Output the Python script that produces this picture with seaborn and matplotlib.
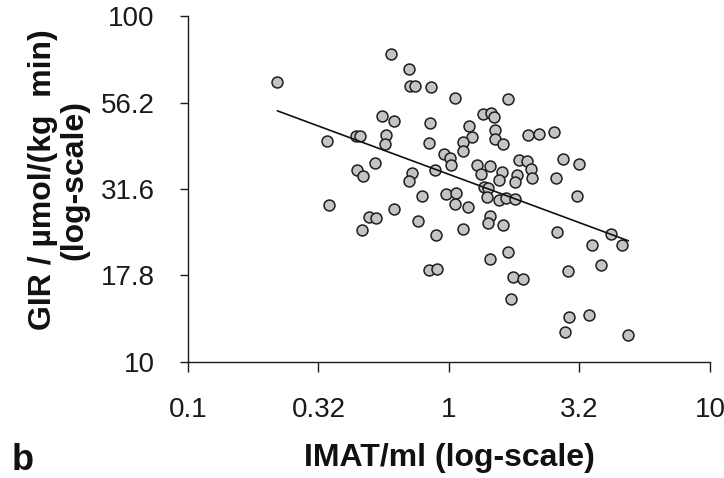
import numpy as np
import pandas as pd
import matplotlib
matplotlib.use("Agg")
import matplotlib.pyplot as plt
import seaborn as sns
from matplotlib.ticker import FixedLocator, FixedFormatter, NullLocator

# IMAT volume (ml) and GIR (µmol/(kg min))
imat = [0.220, 0.599, 0.700, 0.712, 0.740, 0.855, 1.05, 0.555, 0.617, 0.848,
        0.342, 0.439, 0.457, 0.575, 0.567, 0.837, 0.961, 1.009, 1.022, 0.519,
        0.445, 0.470, 0.880, 0.720, 0.702, 0.785, 0.970, 1.068, 1.05, 0.347,
        0.613, 1.679, 1.351, 1.450, 1.493, 1.198, 1.227, 1.129, 1.129, 1.506,
        1.506, 1.609, 2.002, 2.209, 2.516, 1.852, 1.991, 2.068, 2.077, 1.823,
        1.785, 2.724, 3.147, 2.577, 3.092, 1.285, 1.432, 1.328, 1.592, 1.359,
        1.408, 1.550, 1.398, 1.560, 1.652, 1.796, 1.180, 1.441, 1.412, 1.609,
        1.133, 0.495, 0.527, 0.466, 0.764, 0.894, 0.837, 0.896, 1.679, 1.441,
        1.760, 1.922, 1.729, 2.584, 4.172, 3.528, 4.596, 3.831, 2.847, 2.872,
        3.445, 2.773, 4.871]
gir = [64.5, 77.6, 70.2, 62.8, 62.8, 62.5, 58.1, 51.4, 49.6, 48.9,
       43.6, 45.0, 44.9, 45.3, 42.6, 43.0, 39.9, 38.8, 37.1, 37.5,
       35.8, 34.4, 35.8, 35.1, 33.3, 30.2, 30.6, 30.7, 28.7, 28.5,
       27.6, 57.4, 52.0, 52.4, 51.1, 48.1, 44.7, 43.3, 40.6, 46.7,
       44.1, 42.8, 45.4, 45.5, 46.1, 38.4, 38.2, 36.1, 34.0, 34.6,
       33.1, 38.7, 37.4, 34.0, 30.2, 37.2, 36.9, 35.0, 35.3, 32.0,
       31.8, 33.5, 29.9, 29.4, 29.7, 29.5, 28.0, 26.4, 25.2, 24.9,
       24.3, 26.2, 26.1, 24.0, 25.5, 23.3, 18.4, 18.6, 20.8, 19.9,
       17.6, 17.4, 15.2, 23.7, 23.5, 21.8, 21.8, 19.1, 18.3, 13.5,
       13.7, 12.2, 12.0]

# regression line end points
fit_imat = [0.220, 4.87]
fit_gir = [53.2, 22.4]

x_ticks = [0.1, 0.316, 1, 3.16, 10]
x_tick_labels = ["0.1", "0.32", "1", "3.2", "10"]
y_ticks = [10, 17.8, 31.6, 56.2, 100]
y_tick_labels = ["10", "17.8", "31.6", "56.2", "100"]

df = pd.DataFrame({"IMAT": imat, "GIR": gir})
fit_df = pd.DataFrame({"IMAT": fit_imat, "GIR": fit_gir})

sns.set_theme(style="ticks")
plt.rcParams["font.family"] = ["Liberation Sans", "DejaVu Sans"]

W, H = 724, 478
fig = plt.figure(figsize=(W / 100, H / 100), dpi=100)
ax = fig.add_axes([188 / W, 1 - 362 / H, 522 / W, 346 / H])

sns.scatterplot(data=df, x="IMAT", y="GIR", s=62, color="#c4c4c4",
                edgecolor="#1e1e1e", linewidth=1.1, ax=ax, zorder=3)
sns.lineplot(data=fit_df, x="IMAT", y="GIR", color="#111111", linewidth=1.2,
             ax=ax, zorder=4)

ax.set_xscale("log")
ax.set_yscale("log")
ax.set_xlim(0.1, 10)
ax.set_ylim(10, 100)

ax.xaxis.set_major_locator(FixedLocator(x_ticks))
ax.xaxis.set_major_formatter(FixedFormatter(x_tick_labels))
ax.xaxis.set_minor_locator(NullLocator())
ax.yaxis.set_major_locator(FixedLocator(y_ticks))
ax.yaxis.set_major_formatter(FixedFormatter(y_tick_labels))
ax.yaxis.set_minor_locator(NullLocator())

for side in ["top", "right"]:
    ax.spines[side].set_visible(False)
for side in ["left", "bottom"]:
    ax.spines[side].set_color("#1a1a1a")
    ax.spines[side].set_linewidth(1.0)

ax.tick_params(axis="x", direction="out", length=7.5, width=1.0, pad=17.5,
               labelsize=20, colors="#1a1a1a")
ax.tick_params(axis="y", direction="out", length=5.5, width=1.0, pad=18.5,
               labelsize=20, colors="#1a1a1a")

ax.set_xlabel("IMAT/ml (log-scale)", fontsize=23, fontweight="bold",
              color="#111111")
ax.xaxis.set_label_coords(0.50, -0.234)
ax.xaxis.label.set_va("top")

ax.set_ylabel("GIR / µmol/(kg  min)\n(log-scale)", fontsize=23,
              fontweight="bold", color="#111111", linespacing=1.05)
ax.yaxis.set_label_coords(-0.189, 0.527)

fig.text(12 / W, 1 - 470 / H, "b", fontsize=26, fontweight="bold",
         color="#111111", ha="left", va="baseline")

fig.savefig("out.png", dpi=100)
